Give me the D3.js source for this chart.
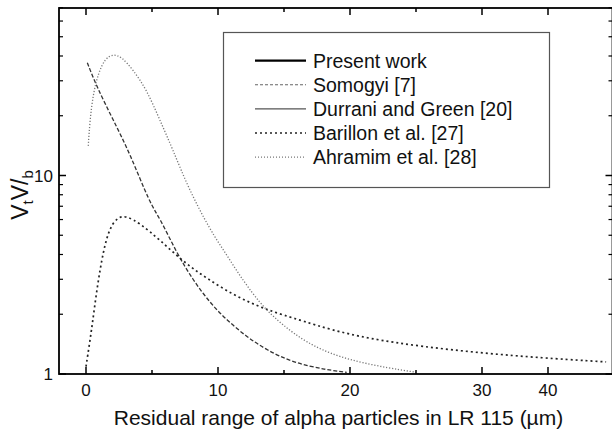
<!DOCTYPE html>
<html><head><meta charset="utf-8">
<script src="https://cdn.jsdelivr.net/npm/d3@7/dist/d3.min.js"></script>
<style>
html,body{margin:0;padding:0;background:#fff;}
svg{display:block;font-family:"Liberation Sans",Arial,Helvetica,sans-serif;}
</style></head>
<body><svg id="c" width="612" height="433"></svg>
<script>
// ---- data (x in µm as labelled on the axis, y = VtV/Ib) ----
const somogyiX = [0.1,0.81,2.07,3.33,4.85,5.6,6.87,8.1,9.4,10.66,12.17,13.69,15.7,18.2,19.75];
const somogyiY = [37,28,19,12.9,7.2,6.1,4.07,2.98,2.28,1.87,1.54,1.32,1.14,1.05,1.02];
const barillonX = [0,0.43,0.81,1.31,1.82,2.45,3.08,4.09,5.6,7.37,9.14,11.4,13.7,16.2,20.8,30.05,48.8];
const barillonY = [1.09,1.67,2.65,4.2,5.52,6.2,6.25,5.74,4.73,3.68,3.03,2.45,2.1,1.87,1.5,1.26,1.15];
const ahramimX = [0.17,0.3,0.55,0.93,1.44,2.07,2.7,3.58,4.6,5.6,6.6,7.75,9.4,10.66,11.9,13.2,14.2,15.7,17.7,20.8,25.0];
const ahramimY = [14.1,19.0,25.9,32.7,38.9,40.9,39.6,34,27,19,13.4,8.65,5.31,3.98,2.95,2.27,1.94,1.6,1.32,1.13,1.02];
const legendLabels = ["Present work","Somogyi [7]","Durrani and Green [20]","Barillon et al. [27]","Ahramim et al. [28]"];
const xTickValues = [0,5,10,15,20,25,30,40];
const xTickLabels = ["0","10","20","30","40"];
const yMajorTicks = [1,10];
const yMinorTicks = [2,3,4,5,6,7,8,9,20,30,40,50,60,70];

const svg = d3.select("#c");
const L = 59, R = 612.5, T = 8, B = 374;
// axis as printed: 0–30 evenly spaced, then 30–40 compressed
const x = d3.scaleLinear().domain([0,30,40]).range([86,482,548]);
const y = d3.scaleLog().domain([1, Math.pow(10,(B-T)/198.5)]).range([B,T]);

const styles = [
  {w:2.2, c:"#000", d:null},
  {w:1.1, c:"#666", d:"3,2"},
  {w:1.2, c:"#555", d:null},
  {w:1.6, c:"#222", d:"2,3"},
  {w:1.2, c:"#777", d:"1,2"}
];
const curveStyles = [
  {w:1.3, c:"#333", d:"4,2"},
  {w:1.7, c:"#222", d:"2,3"},
  {w:1.3, c:"#777", d:"1.2,1.8"}
];

svg.append("clipPath").attr("id","pc").append("rect")
  .attr("x",L).attr("y",T).attr("width",R-L).attr("height",B-T);

const line = d3.line().x(d=>x(d[0])).y(d=>y(d[1])).curve(d3.curveBasis);
const series = [
  {x:somogyiX, y:somogyiY, s:curveStyles[0]},
  {x:barillonX, y:barillonY, s:curveStyles[1]},
  {x:ahramimX, y:ahramimY, s:curveStyles[2]}
];
const g = svg.append("g").attr("clip-path","url(#pc)");
series.forEach(se=>{
  g.append("path").datum(se.x.map((v,i)=>[v,se.y[i]]))
    .attr("d",line).attr("fill","none")
    .attr("stroke",se.s.c).attr("stroke-width",se.s.w)
    .attr("stroke-dasharray",se.s.d);
});

// axes
const major = new Set([0,10,20,30,40]);
function xTicks(yy, dir){
  xTickValues.forEach(v=>{
    const len = major.has(v)?7:4;
    svg.append("line").attr("x1",x(v)).attr("x2",x(v)).attr("y1",yy).attr("y2",yy+dir*len)
      .attr("stroke","#000").attr("stroke-width",1.5);
  });
}
xTicks(B,-1); xTicks(T,1);
function yTicks(xx, dir){
  yMajorTicks.forEach(v=>svg.append("line").attr("x1",xx).attr("x2",xx+dir*7).attr("y1",y(v)).attr("y2",y(v)).attr("stroke","#000").attr("stroke-width",1.5));
  yMinorTicks.forEach(v=>svg.append("line").attr("x1",xx).attr("x2",xx+dir*4).attr("y1",y(v)).attr("y2",y(v)).attr("stroke","#000").attr("stroke-width",1.2));
}
yTicks(L,1); yTicks(R,-1);
svg.append("rect").attr("x",L).attr("y",T).attr("width",R-L).attr("height",B-T)
  .attr("fill","none").attr("stroke","#000").attr("stroke-width",1.8);

// tick labels
xTickLabels.forEach(t=>{
  svg.append("text").attr("x",x(+t)).attr("y",396).attr("text-anchor","middle")
    .attr("font-size",17).attr("fill","#111").text(t);
});
yMajorTicks.forEach(v=>{
  svg.append("text").attr("x",53).attr("y",y(v)+6).attr("text-anchor","end")
    .attr("font-size",17).attr("fill","#111").text(v);
});

// axis titles
svg.append("text").attr("x",338.5).attr("y",424.5).attr("text-anchor","middle")
  .attr("font-size",21).attr("fill","#111")
  .text("Residual range of alpha particles in LR 115 (\u00b5m)");
const yl = svg.append("text").attr("transform","translate(28,195) rotate(-90)")
  .attr("text-anchor","middle").attr("font-size",23).attr("fill","#111");
yl.append("tspan").text("V");
yl.append("tspan").attr("font-size",15).attr("dy",5).text("t");
yl.append("tspan").attr("dy",-5).text("V/");
yl.append("tspan").attr("font-size",15).attr("dy",5).text("b");

// legend
svg.append("rect").attr("x",223.5).attr("y",32.5).attr("width",326).attr("height",155)
  .attr("fill","#fff").attr("stroke","#555").attr("stroke-width",1.2);
legendLabels.forEach((t,i)=>{
  const yy = 60.7 + i*24.1;
  const s = styles[i];
  svg.append("line").attr("x1",255).attr("x2",306).attr("y1",yy).attr("y2",yy)
    .attr("stroke",s.c).attr("stroke-width",s.w).attr("stroke-dasharray",s.d);
  svg.append("text").attr("x",313).attr("y",yy+7).attr("font-size",19.5).attr("fill","#111").text(t);
});
</script></body></html>
